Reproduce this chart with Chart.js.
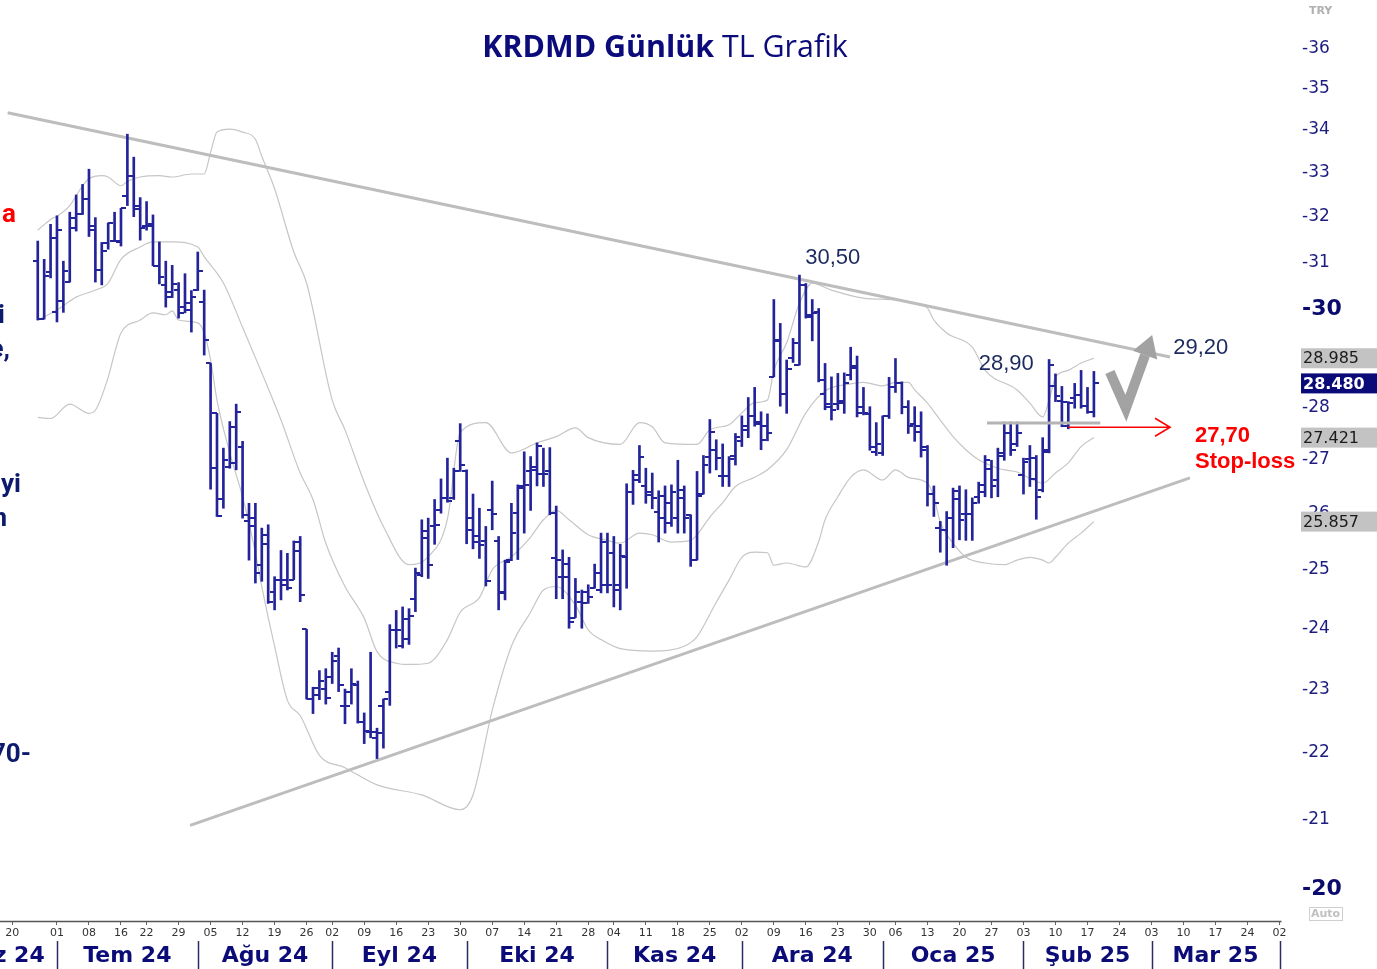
<!DOCTYPE html>
<html>
<head>
<meta charset="utf-8">
<script src="https://cdn.jsdelivr.net/npm/chart.js@4.4.1/dist/chart.umd.min.js"></script>
<style>
  html, body { margin: 0; padding: 0; background: #fff; overflow: hidden; }
</style>
</head>
<body>
<canvas id="krdmd" width="1377" height="969"></canvas>
<script>
// trading calendar (BIST holidays inside the window)
const holidays = ['2024-06-17','2024-06-18','2024-06-19','2024-07-15','2024-08-30','2024-10-29','2025-01-01','2025-03-31','2025-04-01'];
const monthNames = ['Oca','Şub','Mar','Nis','May','Haz','Tem','Ağu','Eyl','Eki','Kas','Ara'];
const originDay = '2024-06-20';   // x = 0
const firstBarDay = '2024-06-26';
const lastAxisDay = '2025-04-02';

// daily OHLC, TL
const opens = [31.02,29.79,30.79,29.94,30.16,30.57,31.98,32.05,32.40,31.80,
  30.82,31.41,31.46,31.43,32.47,32.92,32.23,31.80,31.83,30.92,
  30.51,30.36,30.40,30.04,29.98,30.40,30.15,28.88,27.89,26.26,
  26.87,26.93,27.25,25.86,25.92,25.09,25.62,24.62,24.83,24.83,
  24.83,25.50,23.98,22.84,22.90,23.00,23.20,23.54,22.73,22.95,
  23.06,22.48,22.32,22.22,22.73,22.95,23.97,23.70,24.16,24.50,
  24.91,25.69,25.77,26.07,26.29,26.29,27.35,26.79,25.71,25.59,
  25.51,26.07,25.51,24.59,25.17,26.01,26.48,26.78,26.81,26.73,
  26.79,25.20,24.88,25.10,24.18,24.45,24.62,24.68,24.65,24.74,
  25.30,24.74,25.22,26.40,26.62,26.51,26.40,26.04,26.33,25.83,
  25.92,26.44,25.98,25.17,26.36,27.06,27.19,26.69,26.69,27.07,
  27.36,27.64,27.84,27.73,27.64,28.61,29.34,28.26,29.00,28.85,
  30.50,29.88,29.94,28.27,28.02,28.08,28.14,28.65,28.78,28.02,
  27.88,27.14,27.12,27.84,28.40,28.48,28.02,27.68,27.64,27.25,
  26.37,25.74,25.71,25.92,26.26,26.00,26.00,26.31,26.40,26.82,
  26.62,27.13,27.50,27.30,26.71,27.01,27.03,26.44,27.19,28.42,
  28.14,27.64,28.20,28.25,28.03,27.92];
const highs = [31.46,31.06,31.83,32.02,31.02,32.10,32.49,32.73,33.08,31.98,
  31.43,31.86,32.10,32.19,33.90,33.36,32.43,32.34,32.04,31.44,
  31.02,30.93,30.56,30.75,30.39,31.22,30.40,28.88,27.89,27.22,
  27.73,28.07,27.35,26.19,26.19,25.74,25.80,24.88,25.34,25.29,
  25.51,25.59,23.98,23.03,23.30,23.33,23.60,23.67,23.00,23.33,
  23.13,22.62,23.60,22.38,22.84,24.06,24.30,24.36,24.33,25.03,
  25.89,25.92,26.26,26.64,27.03,26.84,27.69,26.81,26.36,26.10,
  25.77,26.60,25.59,25.17,26.19,26.53,27.15,27.06,27.32,27.22,
  27.23,26.14,25.35,25.22,24.85,24.65,24.74,25.10,25.65,25.65,
  25.59,25.45,26.55,26.80,27.27,26.84,26.75,26.42,26.51,26.53,
  26.99,26.51,25.98,26.78,27.08,27.77,27.38,27.30,27.06,27.50,
  27.84,28.20,28.40,27.92,27.88,30.20,29.70,28.95,29.39,30.72,
  30.54,30.20,30.01,28.88,28.61,28.68,28.69,29.21,29.03,28.40,
  28.02,27.71,27.84,28.60,28.98,28.51,28.14,28.02,27.92,27.27,
  26.51,25.86,26.04,26.47,26.51,26.44,26.29,26.58,27.08,26.99,
  27.22,27.72,27.72,27.72,27.03,27.27,27.08,27.42,28.96,28.67,
  28.42,28.12,28.48,28.74,28.40,28.72];
const lows = [29.77,29.79,30.66,29.73,29.93,30.57,31.68,32.05,31.56,30.57,
  30.51,31.28,31.45,31.35,32.25,32.00,31.48,31.70,30.92,30.53,
  30.04,30.24,29.81,29.92,29.52,30.39,29.05,26.45,25.95,26.10,
  26.84,26.81,25.92,25.17,24.77,24.80,24.42,24.31,24.48,24.65,
  24.83,24.45,22.84,22.61,22.83,22.76,23.09,22.96,22.45,22.76,
  22.46,22.14,22.23,21.91,22.07,22.74,23.67,23.67,23.73,24.28,
  24.88,24.85,25.45,26.01,26.21,26.26,26.78,25.46,25.37,25.20,
  24.72,25.71,24.31,24.48,25.16,25.18,25.65,26.06,26.51,26.50,
  25.98,24.50,24.50,24.00,24.18,24.00,24.42,24.68,24.60,24.60,
  24.36,24.31,24.68,26.17,26.57,26.19,26.09,25.49,25.65,25.77,
  25.65,25.65,25.06,25.17,26.36,26.75,26.81,26.50,26.50,26.90,
  27.25,27.42,27.64,27.19,27.36,28.61,28.03,27.89,28.90,28.85,
  29.81,29.34,28.51,27.96,27.76,27.96,27.89,28.55,27.82,27.86,
  27.18,27.08,27.08,27.79,28.30,27.88,27.50,27.35,27.05,26.14,
  25.95,25.31,25.08,25.39,25.53,25.52,25.52,26.19,26.31,26.29,
  26.31,26.99,27.08,27.25,26.36,26.50,25.90,26.40,27.13,28.12,
  27.63,27.59,27.99,27.99,27.89,27.82];
const closes = [29.79,30.70,31.52,31.70,30.80,31.74,32.05,32.40,31.70,30.82,
  31.24,31.86,31.45,32.19,32.92,32.17,31.74,31.80,30.92,30.68,
  30.26,30.54,29.92,30.13,30.26,30.80,29.36,26.84,25.95,26.99,
  27.63,27.92,25.98,25.77,24.94,25.45,24.45,24.83,24.74,24.68,
  25.34,24.57,22.84,23.01,23.13,22.86,23.46,23.06,22.73,23.09,
  22.48,22.33,22.32,22.30,22.84,23.97,23.97,23.82,24.20,24.95,
  25.56,25.08,25.80,26.29,26.23,26.78,26.90,25.92,25.49,25.43,
  24.80,26.00,24.62,25.14,25.65,26.51,26.52,26.87,27.27,26.73,
  26.01,25.17,24.88,24.10,24.62,24.42,24.53,24.94,25.49,24.74,
  24.65,25.24,26.40,26.71,27.06,26.35,26.29,25.93,26.19,26.40,
  26.29,25.92,25.17,26.33,26.90,27.53,27.03,26.69,27.01,27.43,
  27.56,27.84,27.68,27.38,27.50,29.36,28.27,28.76,29.30,30.51,
  29.84,29.91,28.55,28.08,27.96,28.09,28.48,28.82,27.89,27.89,
  27.25,27.30,27.84,28.40,28.48,28.02,27.64,27.53,27.18,26.37,
  26.19,25.71,25.92,26.41,25.88,26.00,26.19,26.53,26.99,26.51,
  27.08,27.50,27.18,27.50,26.96,26.64,26.31,27.15,28.85,28.23,
  28.12,28.10,28.25,28.03,27.92,28.48];

// Bollinger bands (day index from originDay, TL)
const upperAt = [4,6,7,9,10,11,12,14,15,17,18,20,23,25,28,30,31,32,34,36,38,39,41,44,46,50,52,55,58,62,65,68,70,74,78,82,85,88,90,95,98,100,102,107,109,112,114,116,118,119,121,123,125,128,133,138,141,143,144,146,150,152,157,159,161,162,163,165,167,169];
const upperVal = [31.70,31.94,32.01,32.25,32.47,32.70,32.86,32.93,32.90,32.70,32.80,32.90,32.93,32.90,32.97,32.97,33.47,33.95,34.02,33.95,33.78,33.38,32.63,31.22,30.55,28.15,27.57,26.58,25.77,25.09,25.23,25.90,27.52,27.71,27.13,27.32,27.44,27.61,27.42,27.29,27.71,27.63,27.32,27.29,27.57,27.67,27.90,28.10,28.15,28.74,29.30,30.12,30.55,30.40,30.23,30.19,30.12,30.02,29.77,29.50,29.21,28.74,28.35,28.09,27.82,28.15,28.60,28.74,28.89,28.985];
const midAt = [4,7,10,13,15,17,20,22,25,29,30,33,36,39,42,45,47,49,52,55,57,60,62,65,68,70,73,75,78,81,83,85,87,90,93,95,98,100,103,106,107,109,111,113,116,118,121,124,127,131,133,136,138,140,141,143,145,147,149,151,154,155,157,159,161,163,165,167,169];
const midVal = [29.77,29.98,30.25,30.40,30.55,31.06,31.33,31.44,31.44,31.33,31.12,30.55,29.62,28.69,27.76,26.75,26.26,25.47,24.71,24.17,23.61,23.42,23.40,23.42,23.81,24.27,24.52,25.00,25.23,25.58,25.89,26.06,25.89,25.62,25.52,25.47,25.65,25.62,25.49,25.52,25.62,25.94,26.20,26.50,26.67,26.81,27.19,27.90,28.33,28.47,28.50,28.43,28.50,28.50,28.35,28.09,27.76,27.44,27.19,27.00,26.84,26.81,26.77,26.65,26.56,26.75,26.94,27.25,27.421];
const lowAt = [4,6,9,12,13,15,16,17,20,22,24,25,26,29,30,31,32,34,36,38,39,41,43,45,48,52,57,64,70,72,75,78,81,83,85,88,90,92,95,100,105,107,110,112,114,116,118,119,121,124,126,127,129,131,133,136,138,140,143,144,145,147,149,152,155,157,159,161,162,163,165,167,169];
const lowVal = [27.81,27.79,28.07,27.89,27.95,28.60,29.09,29.50,29.77,29.92,29.88,29.96,29.77,29.71,29.50,28.95,28.15,27.13,26.31,25.30,24.71,23.70,22.82,22.58,21.96,21.77,21.51,21.36,21.14,21.36,22.66,23.70,24.27,24.65,24.71,24.39,23.97,23.81,23.66,23.62,23.70,23.86,24.44,24.82,25.22,25.31,25.30,25.08,25.12,25.05,25.50,25.89,26.31,26.67,26.81,26.62,26.81,26.67,26.56,26.31,25.85,25.47,25.22,25.12,25.09,25.17,25.22,25.17,25.12,25.22,25.47,25.65,25.857];

// trend lines (day index, TL)
const upperTrendAt = [-0.7, 180.9], upperTrendVal = [34.41, 29.01];
const lowerTrendAt = [27.8, 184.0], lowerTrendVal = [20.91, 26.66];

// annotations (day index, TL)
const resistAt = [152.3, 170], resistVal = 27.70;
const stopAt = [165, 180.9], stopVal = 27.62;
const checkAt = [171.5, 174.0, 177.0], checkVal = [28.71, 27.99, 29.05];
const headAt = [175.1, 178.1, 178.9], headVal = [29.14, 29.46, 28.96];
const notes = [
  { t: '30,50', at: 128.2, v: 31.1, align: 'center' },
  { t: '28,90', at: 155.3, v: 28.87, align: 'center' },
  { t: '29,20', at: 181.4, v: 29.19, align: 'left' }
];
const stopNotes = [{ t: '27,70', at: 184.8, v: 27.46 }, { t: 'Stop-loss', at: 184.8, v: 26.96 }];

const yTicks = [20, 21, 22, 23, 24, 25, 26, 27, 28, 30, 31, 32, 33, 34, 35, 36];
const bandBoxes = [28.985, 27.421, 25.857];
const lastClose = 28.480;

// page text cut off on the left edge
const sideText = [
  { t: 'a', x: 16, y: 215, c: '#ff0000' },
  { t: 'i', x: 5, y: 316 },
  { t: 'e,', x: 10, y: 350 },
  { t: 'yi', x: 21, y: 485 },
  { t: 'n', x: 7, y: 519 },
  { t: '70-', x: 31, y: 755 }
];

const barColor = '#23239a';
const navy = '#0c0c78';

function buildDays() {
  const out = [];
  let t = Date.UTC(2024, 5, 3);
  const end = Date.UTC(2025, 3, 11);
  while (t <= end) {
    const d = new Date(t);
    const s = d.toISOString().slice(0, 10);
    const w = d.getUTCDay();
    if (w !== 0 && w !== 6 && !holidays.includes(s)) out.push(s);
    t += 86400000;
  }
  return out;
}

const days = buildDays();
const origin = days.indexOf(originDay);
const barStart = days.indexOf(firstBarDay) - origin;
const axisEnd = days.indexOf(lastAxisDay) - origin;

function mondayOf(s) {
  const d = new Date(s + 'T00:00:00Z');
  return d.getTime() - ((d.getUTCDay() + 6) % 7) * 86400000;
}

const weekTicks = [];
const weekLabel = {};
const monthStarts = [];
days.forEach((s, k) => {
  const x = k - origin;
  if (k === 0 || mondayOf(s) !== mondayOf(days[k - 1])) {
    const prev = weekTicks[weekTicks.length - 1];
    if (x >= 0 && x <= axisEnd && (prev === undefined || x - prev > 3)) {
      weekTicks.push(x);
      weekLabel[x] = s.slice(8, 10);
    }
  }
  if (k === 0 || s.slice(5, 7) !== days[k - 1].slice(5, 7)) {
    monthStarts.push({ x: x, m: +s.slice(5, 7) - 1, y: s.slice(2, 4) });
  }
});

function pairs(at, val) { return at.map((x, i) => ({ x: x, y: val[i] })); }

function tickImage(side) {
  const c = document.createElement('canvas');
  c.width = 10; c.height = 2;
  const g = c.getContext('2d');
  g.fillStyle = barColor;
  g.fillRect(side === 'left' ? 0 : 5, 0, 5, 2);
  return c;
}

const bandStyle = { type: 'line', borderColor: '#c6c6c6', borderWidth: 1.2, pointRadius: 0, cubicInterpolationMode: 'monotone', fill: false, order: 6 };
const trendStyle = { type: 'line', borderColor: '#bdbdbd', borderWidth: 3, pointRadius: 0, fill: false, order: 5 };

const extras = {
  id: 'extras',
  afterDatasetsDraw(chart) {
    const { ctx } = chart;
    const x = chart.scales.x, y = chart.scales.y;
    const px = v => x.getPixelForValue(v), py = v => y.getPixelForValue(v);
    ctx.save();

    // level line
    ctx.strokeStyle = '#b4b4b4';
    ctx.lineWidth = 3;
    ctx.beginPath();
    ctx.moveTo(px(resistAt[0]), py(resistVal));
    ctx.lineTo(px(resistAt[1]), py(resistVal));
    ctx.stroke();

    // stop-loss arrow
    const sy = py(stopVal), sx = px(stopAt[1]);
    ctx.strokeStyle = '#ff0000';
    ctx.lineWidth = 1.6;
    ctx.beginPath();
    ctx.moveTo(px(stopAt[0]), sy);
    ctx.lineTo(sx, sy);
    ctx.moveTo(sx - 15, sy - 9);
    ctx.lineTo(sx, sy);
    ctx.lineTo(sx - 15, sy + 9);
    ctx.stroke();

    // gray check arrow
    ctx.strokeStyle = '#a2a2a2';
    ctx.fillStyle = '#a2a2a2';
    ctx.lineWidth = 10;
    ctx.lineJoin = 'miter';
    ctx.beginPath();
    checkAt.forEach((a, i) => { const fn = i ? 'lineTo' : 'moveTo'; ctx[fn](px(a), py(checkVal[i])); });
    ctx.stroke();
    ctx.beginPath();
    headAt.forEach((a, i) => { const fn = i ? 'lineTo' : 'moveTo'; ctx[fn](px(a), py(headVal[i])); });
    ctx.closePath();
    ctx.fill();

    // value notes
    ctx.textBaseline = 'middle';
    ctx.font = '22px "Liberation Sans", Arial, sans-serif';
    ctx.fillStyle = '#1c2a5e';
    notes.forEach(n => { ctx.textAlign = n.align; ctx.fillText(n.t, px(n.at), py(n.v)); });
    ctx.font = 'bold 22px "Liberation Sans", Arial, sans-serif';
    ctx.fillStyle = '#ff0000';
    ctx.textAlign = 'left';
    stopNotes.forEach(n => ctx.fillText(n.t, px(n.at), py(n.v)));
    ctx.restore();
  },
  afterDraw(chart) {
    const { ctx } = chart;
    const x = chart.scales.x, y = chart.scales.y;
    const px = v => x.getPixelForValue(v);
    const area = chart.chartArea;
    ctx.save();

    // date axis line, ends at the last labelled day
    ctx.strokeStyle = '#555';
    ctx.lineWidth = 1.5;
    ctx.beginPath();
    ctx.moveTo(area.left, area.bottom + 0.5);
    ctx.lineTo(px(axisEnd) + 2, area.bottom + 0.5);
    ctx.stroke();

    // title
    const f1 = 'bold 30px "Open Sans", sans-serif', f2 = '30px "Open Sans", sans-serif';
    ctx.font = f1; const w1 = ctx.measureText('KRDMD Günlük').width;
    ctx.font = f2; const w2 = ctx.measureText(' TL Grafik').width;
    const size = 30 * 366 / (w1 + w2);
    ctx.font = 'bold ' + size.toFixed(1) + 'px "Open Sans", sans-serif';
    const b1 = ctx.measureText('KRDMD Günlük').width;
    ctx.font = size.toFixed(1) + 'px "Open Sans", sans-serif';
    const b2 = ctx.measureText(' TL Grafik').width;
    const tx = 665 - (b1 + b2) / 2;
    ctx.fillStyle = '#0b0b7c';
    ctx.textBaseline = 'middle';
    ctx.textAlign = 'left';
    ctx.font = 'bold ' + size.toFixed(1) + 'px "Open Sans", sans-serif';
    ctx.fillText('KRDMD Günlük', tx, 48);
    ctx.font = size.toFixed(1) + 'px "Open Sans", sans-serif';
    ctx.fillText(' TL Grafik', tx + b1, 48);

    // right value boxes
    ctx.font = '16px "DejaVu Sans", sans-serif';
    bandBoxes.forEach(v => {
      const yy = y.getPixelForValue(v);
      ctx.fillStyle = '#c3c3c3';
      ctx.fillRect(area.right + 1, yy - 10, 77, 20);
      ctx.fillStyle = '#1a1a1a';
      ctx.fillText(v.toFixed(3), area.right + 3, yy + 1);
    });
    const ly = y.getPixelForValue(lastClose);
    ctx.fillStyle = '#0a0a78';
    ctx.fillRect(area.right + 1, ly - 10, 77, 20);
    ctx.fillStyle = '#ffffff';
    ctx.font = 'bold 16px "DejaVu Sans", sans-serif';
    ctx.fillText(lastClose.toFixed(3), area.right + 3, ly + 1);

    ctx.fillStyle = '#b0b0b0';
    ctx.font = 'bold 11px "DejaVu Sans", sans-serif';
    ctx.fillText('TRY', 1309, 11);
    ctx.strokeStyle = '#cfcfcf';
    ctx.lineWidth = 1;
    ctx.strokeRect(1309.5, 907.5, 33, 13);
    ctx.fillStyle = '#c0c0c0';
    ctx.fillText('Auto', 1311, 914.5);

    // month row
    ctx.strokeStyle = '#2b2b66';
    ctx.lineWidth = 1.5;
    for (let i = 0; i < monthStarts.length; i++) {
      const ms = monthStarts[i];
      const sxp = px(ms.x);
      if (sxp > 5 && sxp < area.right) {
        ctx.beginPath();
        ctx.moveTo(Math.round(sxp) + 0.5, 941);
        ctx.lineTo(Math.round(sxp) + 0.5, 969);
        ctx.stroke();
      }
      const next = monthStarts[i + 1];
      if (!next) continue;
      const cx = (sxp + px(next.x)) / 2;
      if (cx > area.right - 20) continue;
      ctx.fillStyle = navy;
      ctx.textAlign = 'center';
      ctx.font = 'bold 22px "DejaVu Sans", sans-serif';
      ctx.fillText(monthNames[ms.m] + ' ' + ms.y, cx, 956);
    }

    // cut-off side text
    ctx.textAlign = 'right';
    ctx.font = 'bold 26px Roboto, "Liberation Sans", sans-serif';
    sideText.forEach(s => { ctx.fillStyle = s.c || '#0d1b6e'; ctx.fillText(s.t, s.x, s.y); });
    ctx.restore();
  }
};

new Chart('krdmd', {
  type: 'bar',
  data: {
    datasets: [
      Object.assign({ data: pairs(upperAt, upperVal) }, bandStyle),
      Object.assign({ data: pairs(midAt, midVal) }, bandStyle),
      Object.assign({ data: pairs(lowAt, lowVal) }, bandStyle),
      Object.assign({ data: pairs(upperTrendAt, upperTrendVal) }, trendStyle),
      Object.assign({ data: pairs(lowerTrendAt, lowerTrendVal) }, trendStyle),
      {
        type: 'bar',
        data: highs.map((h, i) => ({ x: barStart + i, y: [lows[i], h] })),
        backgroundColor: barColor,
        barThickness: 2,
        grouped: false,
        order: 2
      },
      {
        type: 'scatter',
        data: opens.map((v, i) => ({ x: barStart + i, y: v })),
        pointStyle: tickImage('left'),
        pointRadius: 3,
        order: 1
      },
      {
        type: 'scatter',
        data: closes.map((v, i) => ({ x: barStart + i, y: v })),
        pointStyle: tickImage('right'),
        pointRadius: 3,
        order: 1
      }
    ]
  },
  options: {
    responsive: false,
    animation: false,
    events: [],
    layout: { padding: 0, autoPadding: false },
    plugins: { legend: { display: false }, tooltip: { enabled: false } },
    scales: {
      x: {
        type: 'linear',
        min: -1.9,
        max: 201.2,
        offset: false,
        grid: { drawOnChartArea: false, drawTicks: true, tickLength: 4, color: '#666', offset: false },
        border: { display: false },
        ticks: {
          autoSkip: false,
          maxRotation: 0,
          padding: 2,
          color: '#333',
          font: { family: 'DejaVu Sans', size: 11 },
          callback: v => weekLabel[v] || ''
        },
        afterBuildTicks: axis => { axis.ticks = weekTicks.map(v => ({ value: v })); },
        afterFit: s => { s.height = 48; s.paddingLeft = 0; s.paddingRight = 0; }
      },
      y: {
        type: 'logarithmic',
        position: 'right',
        min: 19.558,
        max: 37.234,
        grid: { display: false, drawTicks: false, tickLength: 0 },
        border: { display: false },
        ticks: {
          padding: 2,
          color: ctx => (ctx.tick && (ctx.tick.value === 30 || ctx.tick.value === 20)) ? '#0a0a6e' : '#1d1d80',
          font: ctx => (ctx.tick && (ctx.tick.value === 30 || ctx.tick.value === 20))
            ? { family: 'DejaVu Sans', size: 22, weight: 'bold' }
            : { family: 'DejaVu Sans', size: 17 },
          callback: v => '-' + v
        },
        afterBuildTicks: axis => { axis.ticks = yTicks.map(v => ({ value: v })); },
        afterFit: s => { s.width = 77; s.paddingTop = 0; s.paddingBottom = 0; }
      }
    }
  },
  plugins: [extras]
});
</script>
</body>
</html>
